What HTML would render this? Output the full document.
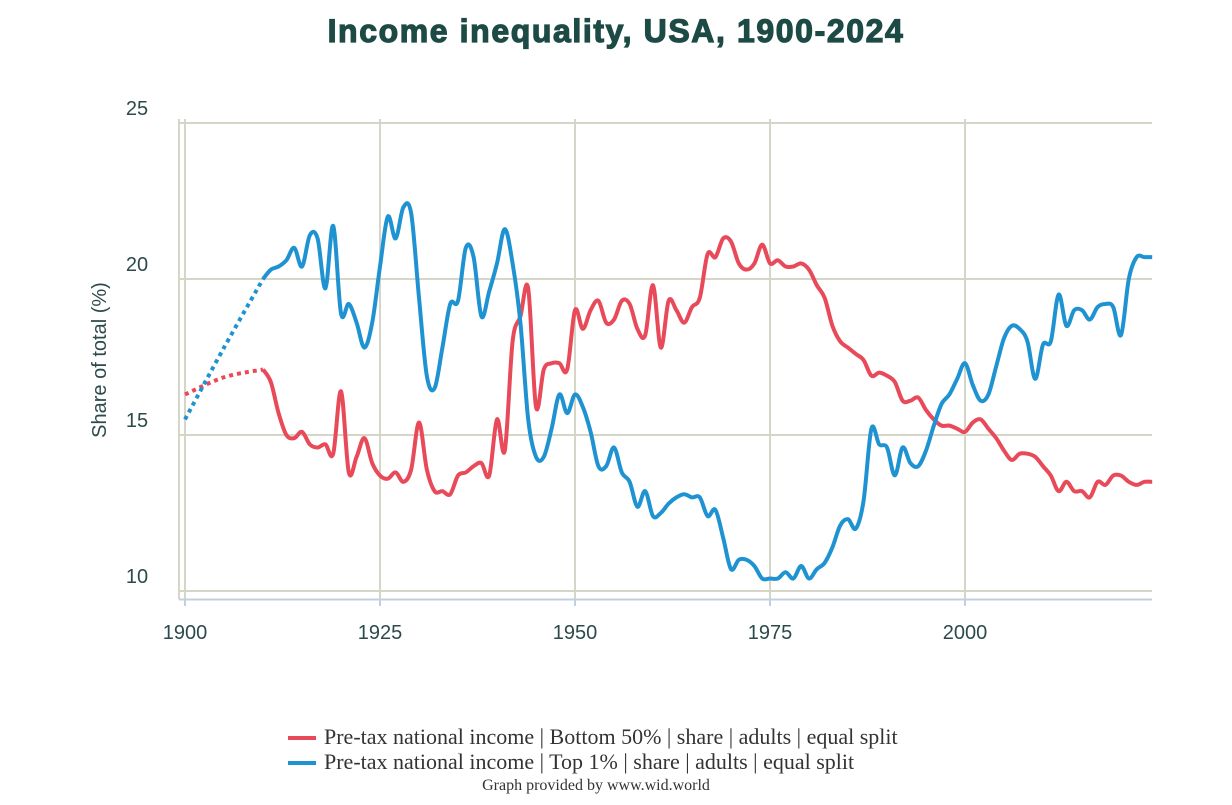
<!DOCTYPE html>
<html><head><meta charset="utf-8"><style>
body{margin:0;background:#fff;width:1232px;height:800px;overflow:hidden}
svg text{font-family:"Liberation Sans",sans-serif}
</style></head><body>
<svg id="chart" width="1232" height="800">
<text x="616" y="42" text-anchor="middle" font-size="32" font-weight="bold" letter-spacing="1.6" fill="#1d4a45" stroke="#1d4a45" stroke-width="1.2">Income inequality, USA, 1900-2024</text>
<g id="grid"></g>
<g id="axes"></g>
<g id="series"></g>
<text transform="translate(106,360) rotate(-90)" text-anchor="middle" font-size="20" fill="#2d4a4a">Share of total (%)</text>
<g>
<g>
<line x1="288" y1="738" x2="316" y2="738" stroke="#e84a5a" stroke-width="4"/>
<text x="324" y="744" font-size="22" fill="#333" style="font-family:'Liberation Serif',serif">Pre-tax national income | Bottom 50% | share | adults | equal split</text>
</g>
<g>
<line x1="288" y1="763" x2="316" y2="763" stroke="#1f93d1" stroke-width="4"/>
<text x="324" y="769" font-size="22" fill="#333" style="font-family:'Liberation Serif',serif">Pre-tax national income | Top 1% | share | adults | equal split</text>
</g>
</g>
<text x="596" y="790" text-anchor="middle" font-size="16" fill="#333" style="font-family:'Liberation Serif',serif">Graph provided by www.wid.world</text>
</svg>
<script>
const xTicks=[1900,1925,1950,1975,2000];
const yTicks=[10,15,20,25];
const dotYearsBottom=[1900,1905,1910];
const dotBottom=[16.3,16.85,17.1];
const dotYearsTop=[1900,1905,1910];
const dotTop=[15.5,17.8,20.0];
const yearsStart=1910;
const bottom50=[17.1,16.7,15.7,15.0,14.9,15.1,14.7,14.6,14.7,14.4,16.4,13.8,14.3,14.9,14.1,13.7,13.6,13.8,13.5,13.9,15.4,13.9,13.2,13.2,13.1,13.7,13.8,14.0,14.1,13.7,15.5,14.5,18.0,18.8,19.7,15.9,17.1,17.3,17.3,17.1,19.0,18.4,19.0,19.3,18.6,18.7,19.3,19.2,18.4,18.2,19.8,17.8,19.3,19.0,18.6,19.1,19.4,20.8,20.7,21.3,21.2,20.5,20.3,20.5,21.1,20.5,20.6,20.4,20.4,20.5,20.3,19.8,19.4,18.5,18.0,17.8,17.6,17.4,16.9,17.0,16.9,16.7,16.1,16.1,16.2,15.8,15.5,15.3,15.3,15.2,15.1,15.4,15.5,15.2,14.9,14.5,14.2,14.4,14.4,14.3,14.0,13.7,13.2,13.5,13.2,13.2,13.0,13.5,13.4,13.7,13.7,13.5,13.4,13.5,13.5];
const top1=[20.0,20.3,20.4,20.6,21.0,20.4,21.4,21.3,19.7,21.7,18.9,19.2,18.6,17.8,18.6,20.4,22.0,21.3,22.3,22.1,19.4,16.9,16.5,17.8,19.2,19.3,21.0,20.7,18.8,19.6,20.5,21.6,20.5,18.6,15.5,14.3,14.3,15.2,16.3,15.7,16.3,15.9,15.1,14.0,14.0,14.6,13.8,13.5,12.7,13.2,12.4,12.5,12.8,13.0,13.1,13.0,13.0,12.4,12.6,11.7,10.7,11.0,11.0,10.8,10.4,10.4,10.4,10.6,10.4,10.8,10.4,10.7,10.9,11.4,12.1,12.3,12.0,12.9,15.2,14.7,14.6,13.7,14.6,14.1,14.0,14.5,15.3,16.0,16.3,16.8,17.3,16.6,16.1,16.3,17.2,18.1,18.5,18.4,18.0,16.8,17.9,18.0,19.5,18.5,19.0,19.0,18.7,19.1,19.2,19.1,18.2,20.0,20.7,20.7,20.7];
const NS='http://www.w3.org/2000/svg';
const X=y=>185+(y-1900)*7.8;
const Y=v=>435-(v-15)*31.2;
function mk(tag,attrs,parent){const e=document.createElementNS(NS,tag);for(const k in attrs)e.setAttribute(k,attrs[k]);parent.appendChild(e);return e;}
const grid=document.getElementById('grid'),axes=document.getElementById('axes'),series=document.getElementById('series');
yTicks.forEach(t=>{
  const l=mk('line',{x1:179,x2:1152,y1:Y(t),y2:Y(t),stroke:'#d6d6c8','stroke-width':2},grid);
  
  
  const tx=mk('text',{x:137,y:Y(t)-8,'text-anchor':'middle','font-size':20,fill:'#2d4a4a'},axes);
  tx.textContent=t;
  
  
});
mk('line',{x1:179,x2:179,y1:119,y2:599,stroke:'#d6d6c8','stroke-width':2},grid);
xTicks.forEach(t=>{
  const l=mk('line',{x1:X(t),x2:X(t),y1:119,y2:599,stroke:'#d6d6c8','stroke-width':2},grid);
  
  
  mk('line',{x1:X(t),x2:X(t),y1:599,y2:606,stroke:'#c0d0e0','stroke-width':2},axes);
  const tx=mk('text',{x:X(t),y:639,'text-anchor':'middle','font-size':20,fill:'#2d4a4a'},axes);
  tx.textContent=t;
  
  
});
const ax=mk('line',{x1:179,x2:1152,y1:599.5,y2:599.5,stroke:'#c0d0e0','stroke-width':2},axes);


function smooth(pts){
  let d='M'+pts[0][0]+','+pts[0][1];
  for(let i=0;i<pts.length-1;i++){
    const p0=pts[i-1]||pts[i],p1=pts[i],p2=pts[i+1],p3=pts[i+2]||p2;
    const c1=[p1[0]+(p2[0]-p0[0])/6,p1[1]+(p2[1]-p0[1])/6];
    const c2=[p2[0]-(p3[0]-p1[0])/6,p2[1]-(p3[1]-p1[1])/6];
    d+=' C'+c1[0]+','+c1[1]+' '+c2[0]+','+c2[1]+' '+p2[0]+','+p2[1];
  }
  return d;
}
function draw(years,vals,color,dash,name){
  const pts=vals.map((v,i)=>[X(years[i]),Y(v)]);
  const p=mk('path',{d:smooth(pts),fill:'none',stroke:color,'stroke-width':4,'stroke-linejoin':'round'},series);
  if(dash)p.setAttribute('stroke-dasharray','4 4');
  
  
}
const yrs=bottom50.map((_,i)=>yearsStart+i);
const yrsT=top1.map((_,i)=>yearsStart+i);
draw(dotYearsBottom,dotBottom,'#e84a5a',true,'bottom50-estimate-line');
draw(dotYearsTop,dotTop,'#1f93d1',true,'top1-estimate-line');
draw(yrs,bottom50,'#e84a5a',false,'bottom50-line');
draw(yrsT,top1,'#1f93d1',false,'top1-line');
</script>
</body></html>
